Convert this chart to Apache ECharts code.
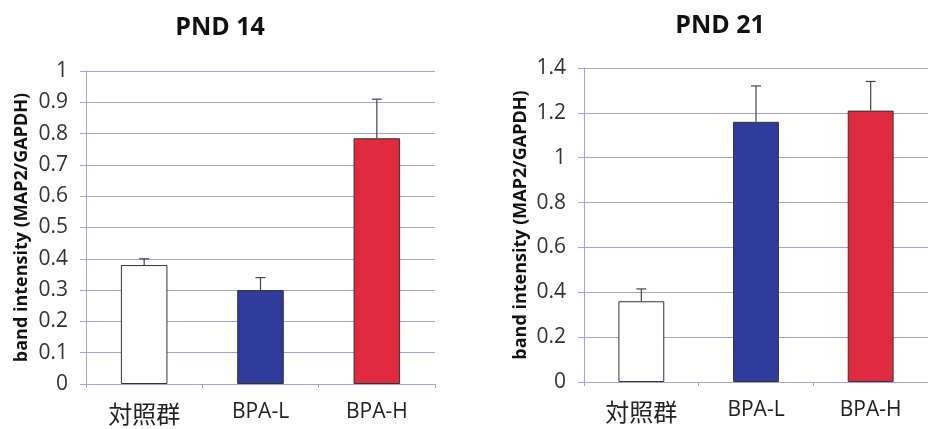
<!DOCTYPE html>
<html>
<head>
<meta charset="utf-8">
<script src="https://cdn.jsdelivr.net/npm/echarts@6/dist/echarts.min.js"></script>
<style>html,body{margin:0;padding:0;background:#fff}#c{width:928px;height:429px}</style>
</head>
<body>
<div id="c"></div>
<script>
const categories = ['対照群', 'BPA-L', 'BPA-H'];
const pnd14Values = [0.38, 0.30, 0.785];
const pnd14ErrTop = [0.40, 0.34, 0.91];
const pnd21Values = [0.36, 1.16, 1.21];
const pnd21ErrTop = [0.415, 1.32, 1.34];
const barColors = ['#ffffff', '#2f3c9c', '#e02a3f'];
const titles = ['PND 14', 'PND 21'];
const yName = 'band intensity (MAP2/GAPDH)';

const chart = echarts.init(document.getElementById('c'));
const gridColor = '#a4a4d6';
const fontFam = '"Open Sans", "Noto Sans CJK JP", sans-serif';

function errSeries(idx, tops, vals) {
  return {
    type: 'custom', xAxisIndex: idx, yAxisIndex: idx, z: 1,
    data: categories.map((c, i) => [i, vals[i], tops[i]]),
    renderItem: function (params, api) {
      const base = api.coord([api.value(0), api.value(1)]);
      const top = api.coord([api.value(0), api.value(2)]);
      const style = { stroke: '#444', lineWidth: 1.2 };
      return { type: 'group', children: [
        { type: 'line', shape: { x1: base[0], y1: base[1], x2: top[0], y2: top[1] }, style },
        { type: 'line', shape: { x1: top[0] - 5, y1: top[1], x2: top[0] + 5, y2: top[1] }, style }
      ]};
    }
  };
}
function barSeries(idx, vals) {
  return {
    type: 'bar', xAxisIndex: idx, yAxisIndex: idx, barWidth: '40%', z: 2,
    data: vals.map((v, i) => ({ value: v, itemStyle: { color: barColors[i], borderColor: '#333', borderWidth: 1 } }))
  };
}
function xAx(idx) {
  return {
    type: 'category', gridIndex: idx, data: categories,
    axisLine: { lineStyle: { color: gridColor } },
    axisTick: { show: true, length: 4, lineStyle: { color: gridColor } },
    axisLabel: { color: '#222', fontSize: 21, margin: 18, fontFamily: fontFam, interval: 0, hideOverlap: false,
      formatter: function (v) { return /[\u3000-\u9fff]/.test(v) ? '{cjk|' + v + '}' : '{lat|' + v + '}'; },
      rich: {
        cjk: { fontSize: 24, color: '#222', fontFamily: '"Noto Sans CJK JP", sans-serif' },
        lat: { fontSize: 21, color: '#222', fontFamily: '"Open Sans", sans-serif' }
      } }
  };
}
function yAx(idx, max, interval) {
  return {
    type: 'value', gridIndex: idx, min: 0, max: max, interval: interval,
    name: yName, nameLocation: 'middle', nameRotate: 90, nameGap: idx === 0 ? 55 : 54,
    nameTextStyle: { fontSize: 18, fontWeight: 'bold', color: '#111', fontFamily: fontFam },
    axisLine: { show: true, lineStyle: { color: gridColor } },
    axisTick: { show: true, length: 6, lineStyle: { color: gridColor } },
    axisLabel: { color: '#333', fontSize: 21, margin: 18, fontFamily: fontFam },
    splitLine: { lineStyle: { color: gridColor, width: 1 } }
  };
}

chart.setOption({
  animation: false,
  title: [
    { text: titles[0], left: 215, top: 10, textAlign: 'center', textStyle: { fontSize: 25, fontWeight: 'bold', color: '#111', fontFamily: fontFam } },
    { text: titles[1], left: 715, top: 8, textAlign: 'center', textStyle: { fontSize: 25, fontWeight: 'bold', color: '#111', fontFamily: fontFam } }
  ],
  grid: [
    { left: 86, right: 493, top: 71, bottom: 45 },
    { left: 584, right: -7, top: 68, bottom: 47 }
  ],
  xAxis: [xAx(0), xAx(1)],
  yAxis: [yAx(0, 1, 0.1), yAx(1, 1.4, 0.2)],
  series: [
    errSeries(0, pnd14ErrTop, pnd14Values),
    barSeries(0, pnd14Values),
    errSeries(1, pnd21ErrTop, pnd21Values),
    barSeries(1, pnd21Values)
  ]
});
</script>
</body>
</html>
